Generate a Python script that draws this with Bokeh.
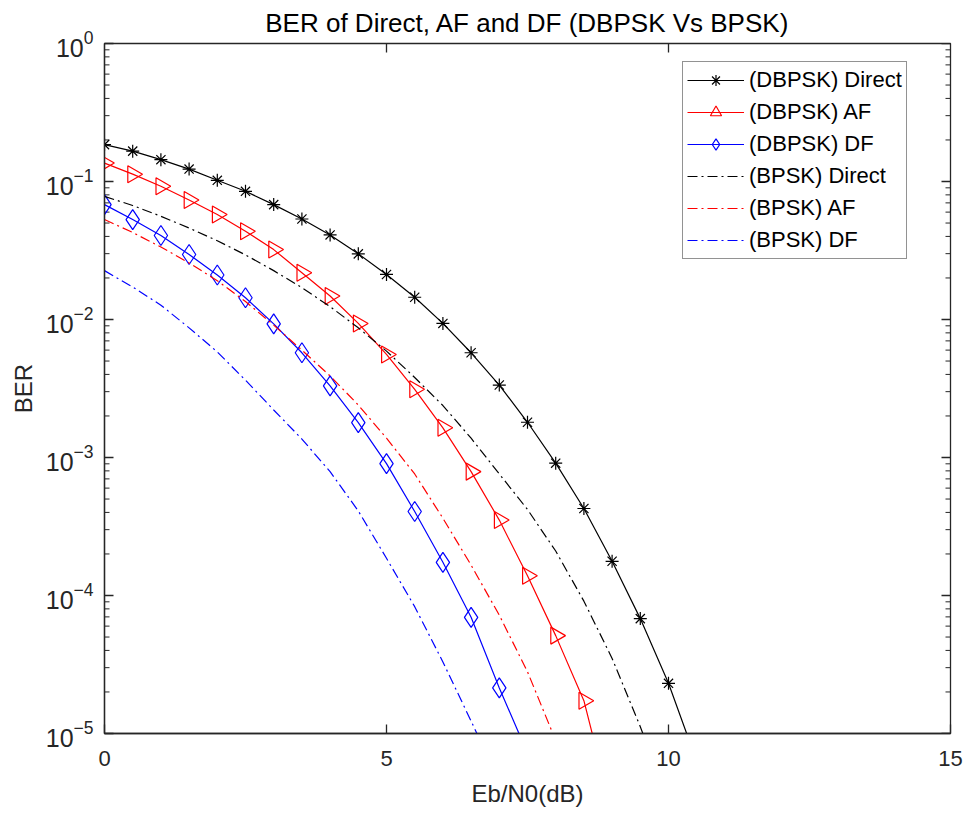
import math
from bokeh.plotting import figure
from bokeh.models import Range1d, FixedTicker, LogTicker
from bokeh.embed import file_html
from bokeh.resources import INLINE

# ---------------- data ----------------
snr_db = [0.0, 0.5, 1.0, 1.5, 2.0, 2.5, 3.0, 3.5, 4.0, 4.5, 5.0,
          5.5, 6.0, 6.5, 7.0, 7.5, 8.0, 8.5, 9.0, 9.5, 10.0, 10.5]

dbpsk_direct = [0.185, 0.166, 0.144, 0.123, 0.102, 0.0849, 0.068, 0.0535, 0.041, 0.0299,
                0.0212, 0.0145, 0.00937, 0.00574, 0.00335, 0.0018, 0.00091, 0.000427,
                0.000177, 6.8e-5, 2.31e-5, 6.3e-6]
dbpsk_af = [0.136, 0.113, 0.0923, 0.0735, 0.0576, 0.0436, 0.0321, 0.0218, 0.0148, 0.00937,
            0.00558, 0.00312, 0.00164, 0.00079, 0.000352, 0.000139, 5.12e-5, 1.73e-5, 2.7e-6]
dbpsk_df = [0.068, 0.053, 0.0406, 0.0296, 0.0210, 0.01437, 0.0093, 0.00574, 0.0033, 0.00179,
            0.000903, 0.000406, 0.000174, 6.95e-5, 2.14e-5, 7.2e-6]
bpsk_direct = [0.078, 0.067, 0.056, 0.046, 0.0372, 0.0294, 0.0226, 0.0170, 0.0124, 0.0087,
               0.0059, 0.0038, 0.00238, 0.00138, 0.00076, 0.00042, 0.00021, 9.1e-5, 3.5e-5,
               1.12e-5, 3.2e-6]
bpsk_af = [0.053, 0.0427, 0.0335, 0.0257, 0.0191, 0.0135, 0.0091, 0.0060, 0.0039, 0.0024,
           0.00138, 0.00076, 0.000363, 0.000166, 7.2e-5, 2.8e-5, 8.9e-6]
bpsk_df = [0.0226, 0.0172, 0.0127, 0.0087, 0.00582, 0.00363, 0.00221, 0.00136, 0.00079,
           0.00041, 0.000186, 8.3e-5, 3.3e-5, 1.23e-5, 4.5e-6]

x_ticks = [0, 5, 10, 15]
y_decades = [-5, -4, -3, -2, -1, 0]
title_text = "BER of Direct, AF and DF (DBPSK Vs BPSK)"
x_label = "Eb/N0(dB)"
y_label = "BER"
labels = ["(DBPSK) Direct", "(DBPSK) AF", "(DBPSK) DF",
          "(BPSK) Direct", "(BPSK) AF", "(BPSK) DF"]

# ---------------- figure ----------------
FONT = "Liberation Sans"
AX = "#262626"
X0, X1, Y0, Y1 = 0, 15, 1e-5, 1

p = figure(width=966, height=816, output_backend="svg", toolbar_location=None,
           x_range=Range1d(X0, X1), y_range=Range1d(Y0, Y1), y_axis_type="log",
           min_border_left=104, min_border_right=16, min_border_top=42,
           min_border_bottom=83, title=title_text)
p.outline_line_color = AX
p.outline_line_width = 1.3
p.xgrid.visible = False
p.ygrid.visible = False
p.background_fill_color = "white"
p.border_fill_color = "white"

p.title.align = "center"
p.title.text_font = FONT
p.title.text_font_size = "26px"
p.title.text_font_style = "normal"
p.title.text_color = "#000000"
p.title.standoff = 11


def style_axis(ax):
    ax.axis_line_color = AX
    ax.axis_line_width = 1.3
    ax.major_tick_line_color = AX
    ax.major_tick_line_width = 1.3
    ax.minor_tick_line_color = AX
    ax.minor_tick_line_width = 1.0
    ax.major_tick_in = 9
    ax.major_tick_out = 0
    ax.minor_tick_in = 0
    ax.minor_tick_out = 0
    ax.major_label_text_font = FONT
    ax.major_label_text_color = AX
    ax.axis_label_text_font = FONT
    ax.axis_label_text_font_size = "24px"
    ax.axis_label_text_font_style = "normal"
    ax.axis_label_text_color = AX


xa = p.xaxis[0]
xa.ticker = FixedTicker(ticks=x_ticks, minor_ticks=[])
xa.axis_label = x_label
style_axis(xa)
xa.major_label_text_font_size = "22px"
xa.major_label_standoff = 17
xa.axis_label_standoff = 11

ya = p.yaxis[0]
ya.ticker = LogTicker()
ya.axis_label = y_label
style_axis(ya)
ya.major_label_text_font_size = "25px"
ya.major_label_standoff = 11
ya.axis_label_standoff = 6

# inward ticks on the box edges (half of each dash falls outside the frame and is clipped)
major_y = [10.0 ** e for e in y_decades]
minor_y = [m * 10.0 ** e for e in y_decades[:-1] for m in range(2, 10)]
for edge in (X0, X1):
    p.scatter([edge] * len(minor_y), minor_y, marker="dash", size=10,
              line_color=AX, line_width=1.0)
p.scatter([X1] * len(major_y), major_y, marker="dash", size=18,
          line_color=AX, line_width=1.3)
p.scatter(x_ticks[1:-1], [Y1] * len(x_ticks[1:-1]), marker="dash", angle=math.pi / 2,
          size=18, line_color=AX, line_width=1.3)

# ---------------- series ----------------
LW = 1.2
DASH = "10 4 2 4"


def xs(vals):
    return snr_db[:len(vals)]


p.line(xs(dbpsk_direct), dbpsk_direct, color="black", line_width=LW, legend_label=labels[0])
p.scatter(xs(dbpsk_direct), dbpsk_direct, marker="asterisk", size=13, line_color="black",
          line_width=1.2, legend_label=labels[0])

p.line(xs(dbpsk_af), dbpsk_af, color="red", line_width=LW, legend_label=labels[1])
p.scatter(xs(dbpsk_af), dbpsk_af, marker="triangle", angle=-math.pi / 2, size=17,
          fill_color=None, line_color="red", line_width=1.2, legend_label=labels[1])

p.line(xs(dbpsk_df), dbpsk_df, color="blue", line_width=LW, legend_label=labels[2])
p.scatter(xs(dbpsk_df), dbpsk_df, marker="diamond", size=20, fill_color=None,
          line_color="blue", line_width=1.2, legend_label=labels[2])

p.line(xs(bpsk_direct), bpsk_direct, color="black", line_width=LW, line_dash=DASH,
       legend_label=labels[3])
p.line(xs(bpsk_af), bpsk_af, color="red", line_width=LW, line_dash=DASH,
       legend_label=labels[4])
p.line(xs(bpsk_df), bpsk_df, color="blue", line_width=LW, line_dash=DASH,
       legend_label=labels[5])

# ---------------- legend ----------------
lg = p.legend[0]
lg.location = (578, 474)
lg.border_line_color = AX
lg.border_line_width = 1
lg.background_fill_color = "white"
lg.background_fill_alpha = 1.0
lg.label_text_font = FONT
lg.label_text_font_size = "22px"
lg.label_text_color = "#000000"
lg.glyph_width = 57
lg.glyph_height = 28
lg.label_height = 28
lg.label_standoff = 5
lg.padding = 4
lg.spacing = 4
lg.margin = 0

open("out.html", "w").write(file_html(p, INLINE))
